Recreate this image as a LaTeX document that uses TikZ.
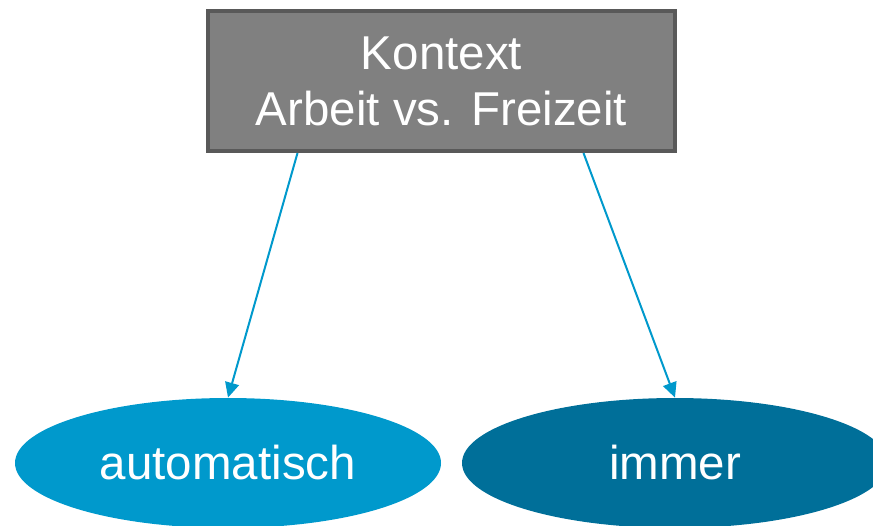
\documentclass[tikz,border=0pt]{standalone}
\usepackage{fontspec}
\setmainfont{Liberation Sans}
\usetikzlibrary{positioning,shapes.geometric,arrows.meta}

\definecolor{ctxgray}{HTML}{808080}
\definecolor{ctxborder}{HTML}{595959}
\definecolor{lightblue}{HTML}{0099CC}
\definecolor{darkblue}{HTML}{006F99}

\tikzset{
  leaf/.style={ellipse,inner sep=0pt,minimum width=213pt,minimum height=65pt,text=white,font=\fontsize{23.75}{28}\selectfont},
  link/.style={lightblue,line width=1pt,-{Triangle[length=7.5pt,width=7pt]}}
}

\begin{document}
\begin{tikzpicture}[x=0.5pt,y=-0.5pt]
                \useasboundingbox (0,0) rectangle (873,525);
                \node[draw=ctxborder,fill=ctxgray,line width=2pt,minimum width=233.5pt,minimum height=70pt,align=center,text=white,font=\fontsize{23.75}{28}\selectfont] (ctx) at (441.5,81) {Kontext\\Arbeit vs. Freizeit};
                \node[leaf,fill=lightblue] (auto) at (228,463) {automatisch};
                \node[leaf,fill=darkblue] (imm) at (675,463) {immer};
                \draw[link] ([xshift=-72pt]ctx.south) -- (auto.north);
                \draw[link] ([xshift=71pt]ctx.south) -- (imm.north);
            \end{tikzpicture}
\end{document}
